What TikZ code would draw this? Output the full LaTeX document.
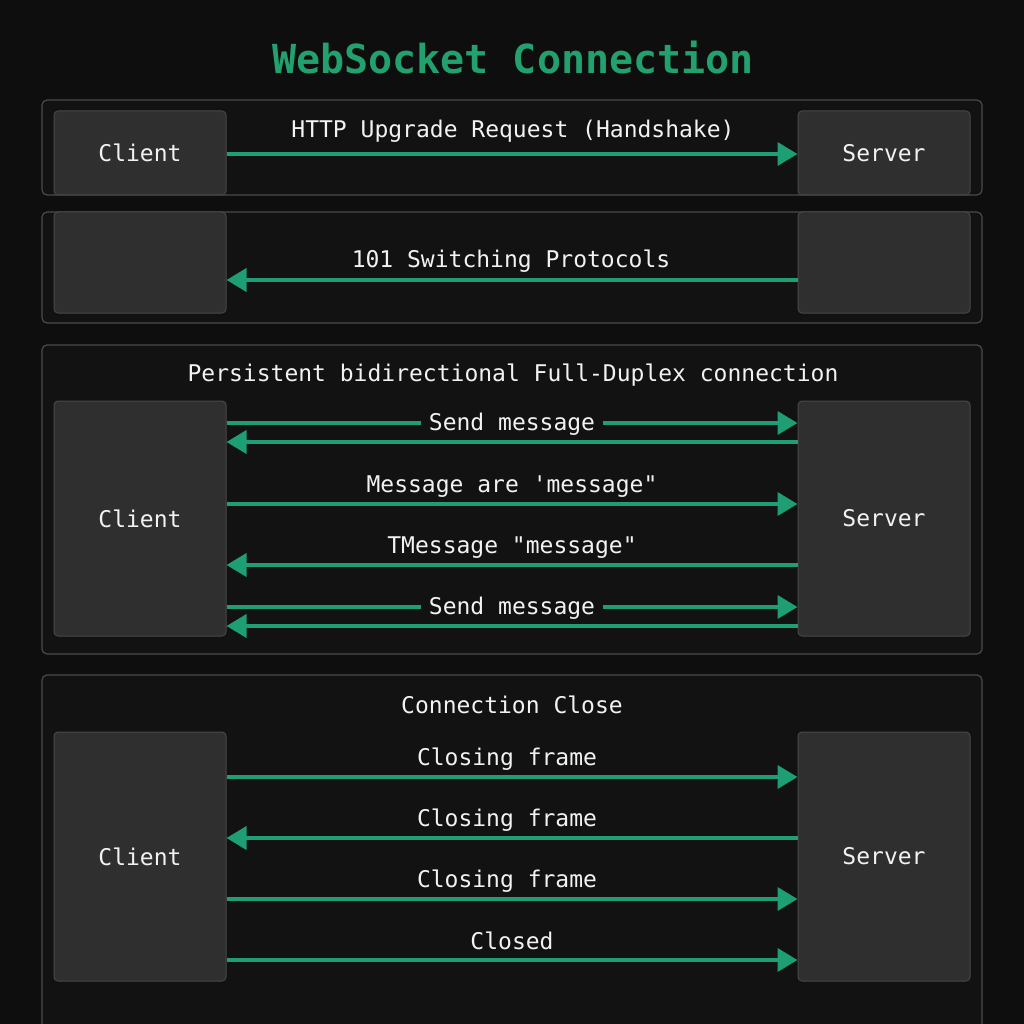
\documentclass[tikz,border=0pt]{standalone}
\usepackage{fontspec}
\setmonofont{DejaVu Sans Mono}
\usetikzlibrary{arrows.meta}
\definecolor{bgc}{HTML}{0E0E0E}
\definecolor{panelc}{HTML}{121212}
\definecolor{paneledge}{HTML}{4A4A4A}
\definecolor{boxc}{HTML}{2F2F2F}
\definecolor{boxedge}{HTML}{484848}
\definecolor{grn}{HTML}{1E9E74}
\definecolor{titlec}{HTML}{22A06E}
\definecolor{txt}{HTML}{F2F2F2}
\tikzset{
  panel/.style={draw=paneledge, fill=panelc, line width=1.2pt, rounded corners=5pt},
  actor/.style={draw=boxedge, fill=boxc, line width=1pt, rounded corners=4pt, minimum width=172pt, inner sep=0pt, text=txt, font=\ttfamily\fontsize{23}{26}\selectfont},
  lbl/.style={text=txt, font=\ttfamily\fontsize{23}{26}\selectfont, inner sep=0pt},
  inl/.style={text=txt, font=\ttfamily\fontsize{23}{26}\selectfont, fill=panelc, inner xsep=8pt, inner ysep=2pt},
  arr/.style={draw=grn, line width=3.8pt, -{Triangle[length=20pt,width=23pt]}},
}
\begin{document}
\begin{tikzpicture}[x=1pt,y=-1pt]
\useasboundingbox (0,0) rectangle (1024,1024);
\fill[bgc] (0,0) rectangle (1024,1024);
\clip (0,0) rectangle (1024,1024);
% title
\node[text=titlec, font=\ttfamily\bfseries\fontsize{40}{44}\selectfont] (title) at (513,58) {WebSocket Connection};
% panel 1
\draw[panel] (42,100) rectangle (982,195);
\node[actor, minimum height=84pt] (c1) at (140,153) {Client};
\node[actor, minimum height=84pt] (s1) at (884,153) {Server};
\draw[arr] (c1.east |- 0,154) -- (s1.west |- 0,154);
\node[lbl] (l1) at (513,131) {HTTP Upgrade Request (Handshake)};
% panel 2
\draw[panel] (42,212) rectangle (982,323);
\node[actor, minimum height=101pt] (c2) at (140,262.5) {};
\node[actor, minimum height=101pt] (s2) at (884,262.5) {};
\draw[arr] (s2.west |- 0,280) -- (c2.east |- 0,280);
\node[lbl] (l2) at (511,261) {101 Switching Protocols};
% panel 3
\draw[panel] (42,345) rectangle (982,654);
\node[lbl] (h3) at (513,375) {Persistent bidirectional Full-Duplex connection};
\node[actor, minimum height=235pt] (c3) at (140,518.5) {Client};
\node[actor, minimum height=235pt] (s3) at (884,518.5) {Server};
\draw[arr] (c3.east |- 0,423) -- (s3.west |- 0,423);
\node[inl] (m1) at (512,424.5) {Send message};
\draw[arr] (s3.west |- 0,442) -- (c3.east |- 0,442);
\draw[arr] (c3.east |- 0,504) -- (s3.west |- 0,504);
\node[lbl] (m2) at (512,487) {Message are 'message"};
\draw[arr] (s3.west |- 0,565) -- (c3.east |- 0,565);
\node[lbl] (m3) at (512,548) {TMessage "message"};
\draw[arr] (c3.east |- 0,607) -- (s3.west |- 0,607);
\node[inl] (m4) at (512,608.5) {Send message};
\draw[arr] (s3.west |- 0,626) -- (c3.east |- 0,626);
% panel 4
\draw[panel] (42,675) rectangle (982,1060);
\node[lbl] (h4) at (512,705) {Connection Close};
\node[actor, minimum height=249pt] (c4) at (140,856.5) {Client};
\node[actor, minimum height=249pt] (s4) at (884,856.5) {Server};
\draw[arr] (c4.east |- 0,777) -- (s4.west |- 0,777);
\node[lbl] (k1) at (507,759) {Closing frame};
\draw[arr] (s4.west |- 0,838) -- (c4.east |- 0,838);
\node[lbl] (k2) at (507,820) {Closing frame};
\draw[arr] (c4.east |- 0,899) -- (s4.west |- 0,899);
\node[lbl] (k3) at (507,881) {Closing frame};
\draw[arr] (c4.east |- 0,960) -- (s4.west |- 0,960);
\node[lbl] (k4) at (512,941) {Closed};
\end{tikzpicture}
\end{document}
